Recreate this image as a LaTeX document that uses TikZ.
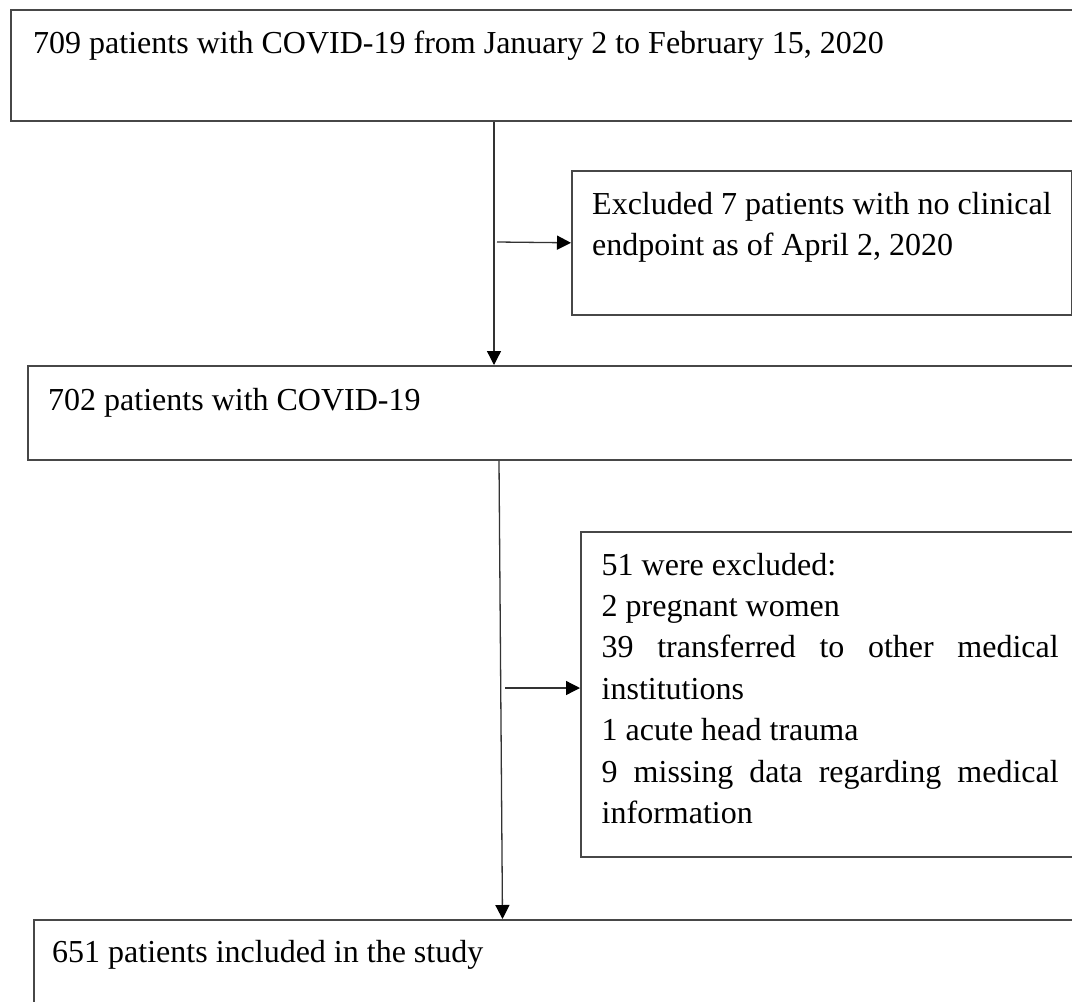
\documentclass[tikz,border=0pt]{standalone}
\usepackage{fontspec}
\setmainfont{Liberation Serif}
\usetikzlibrary{arrows.meta,calc}
\newcommand{\fixsp}{\spaceskip=0pt\xspaceskip=0pt\hyphenpenalty=10000\relax}
\begin{document}
\begin{tikzpicture}[x=1pt,y=1pt,
  box/.style={draw=black!72, line width=1.6pt, rectangle, inner sep=0pt, anchor=north west},
  txt/.style={inner sep=0pt, anchor=base west, font=\fontsize{32}{41.4}\selectfont},
  arr/.style={draw=black!80, line width=1.3pt, -{Triangle[length=14pt,width=14pt,color=black]}}]
\useasboundingbox (0,0) rectangle (1072,-1002);
\clip (0,0) rectangle (1072,-1002);
\fill[white] (0,0) rectangle (1072,-1002);
% boxes
\node[box, minimum width=1080pt, minimum height=111pt] (b1) at (10,-9) {};
\node[box, minimum width=500pt, minimum height=144pt] (b2) at (571,-170) {};
\node[box, minimum width=1060pt, minimum height=94pt] (b3) at (27,-365) {};
\node[box, minimum width=500pt, minimum height=325pt] (b4) at (580,-531) {};
\node[box, minimum width=1060pt, minimum height=120pt] (b5) at (33,-919) {};
% texts
\node[txt] (t1) at (33,-53) {709 patients with COVID-19 from January 2 to February 15, 2020};
\node[txt, text width=470pt, align=left] (t2) at (592,-214) {\fixsp Excluded 7 patients with no clinical\\endpoint as of April 2, 2020};
\node[txt] (t3) at (48,-410) {702 patients with COVID-19};
\node[txt, text width=457pt, align=left] (t4) at (601.5,-575) {\fixsp 51 were excluded:\\2 pregnant women\\\makebox[457pt][s]{39 transferred to other medical}\\institutions\\1 acute head trauma\\\makebox[457pt][s]{9 missing data regarding medical}\\information};
\node[txt] (t5) at (52,-962) {651 patients included in the study};
% connectors
\coordinate (v1) at (494,0);
\coordinate (h1) at (497,-242);
\coordinate (s2) at (499,0);
\coordinate (e2) at (502.5,0);
\coordinate (h2) at (505,-688);
\draw[arr] (b1.south -| v1) -- (b3.north -| v1);
\draw[arr] (h1) -- (b2.west);
\draw[arr] (b3.south -| s2) -- (b5.north -| e2);
\draw[arr] (h2) -- (h2 -| b4.west);
\end{tikzpicture}
\end{document}
